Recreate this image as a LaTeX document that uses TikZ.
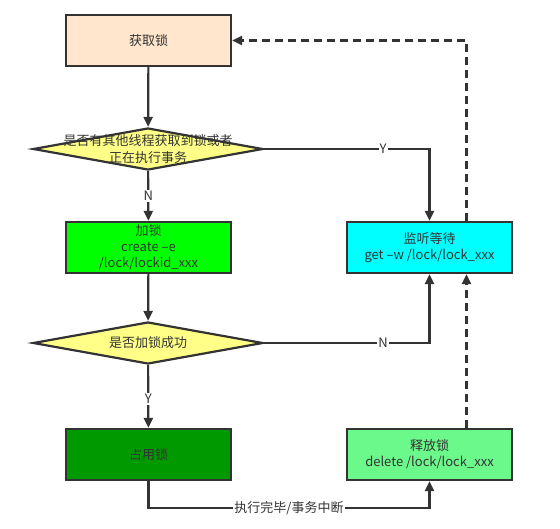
\documentclass[tikz,border=0pt]{standalone}
\usepackage{fontspec}
\setmainfont{Noto Sans CJK SC}
\usetikzlibrary{shapes.geometric,arrows.meta}
\definecolor{ink}{HTML}{333333}
\definecolor{peach}{HTML}{FFE6CC}
\definecolor{lemon}{HTML}{FFFF88}
\definecolor{lime}{HTML}{00FF00}
\definecolor{forest}{HTML}{009900}
\definecolor{aqua}{HTML}{00FFFF}
\definecolor{mint}{HTML}{6CF98C}
\begin{document}
\begin{tikzpicture}[x=1pt, y=-1pt, font=\fontsize{13}{16}\selectfont, text=ink,
  box/.style={draw=ink, line width=2.2pt, minimum width=165pt, minimum height=51pt, align=center, inner sep=2pt},
  decision/.style={draw=ink, line width=2.2pt, diamond, fill=lemon, inner sep=0pt, minimum width=230pt, minimum height=42pt},
  arr/.style={draw=ink, line width=2.2pt, -{Triangle[length=10pt, width=9pt]}},
  lbl/.style={fill=white, inner sep=1pt, text=ink}]
\useasboundingbox (0,0) rectangle (560,528);
\node[box, fill=peach] (get) at (148.5,40.5) {获取锁};
\node[decision, label={[align=center, text=ink]center:是否有其他线程获取到锁或者\\[1pt]正在执行事务}] (chk) at (148,149) {};
\node[box, fill=lime] (lock) at (148.5,247.5) {加锁\\create –e\\/lock/lockid\_xxx};
\node[decision, label={[text=ink]center:是否加锁成功}] (ok) at (148,343) {};
\node[box, fill=forest] (hold) at (148.5,454.5) {占用锁};
\node[box, fill=aqua] (watch) at (429.5,247.5) {监听等待\\get –w /lock/lock\_xxx};
\node[box, fill=mint] (release) at (429.5,454.5) {释放锁\\delete /lock/lock\_xxx};
\draw[arr] (get) -- (chk);
\draw[arr] (chk) -- node[lbl] {N} (lock);
\draw[arr] (chk.east) -| node[lbl, pos=0.36] {Y} (watch.north);
\draw[arr] (lock) -- (ok);
\draw[arr] (ok) -- node[lbl, pos=0.54] {Y} (hold);
\draw[arr] (ok.east) -| node[lbl, pos=0.36] {N} (watch.south);
\draw[arr] (hold.south) -- ++(0,27) -| node[lbl, pos=0.25] {执行完毕/事务中断} (release.south);
\draw[arr, dash pattern=on 8pt off 5pt] ([xshift=37pt]release.north) -- ([xshift=37pt]watch.south);
\draw[arr, dash pattern=on 8pt off 5pt] ([xshift=37pt]watch.north) |- (get.east);
\end{tikzpicture}
\end{document}
